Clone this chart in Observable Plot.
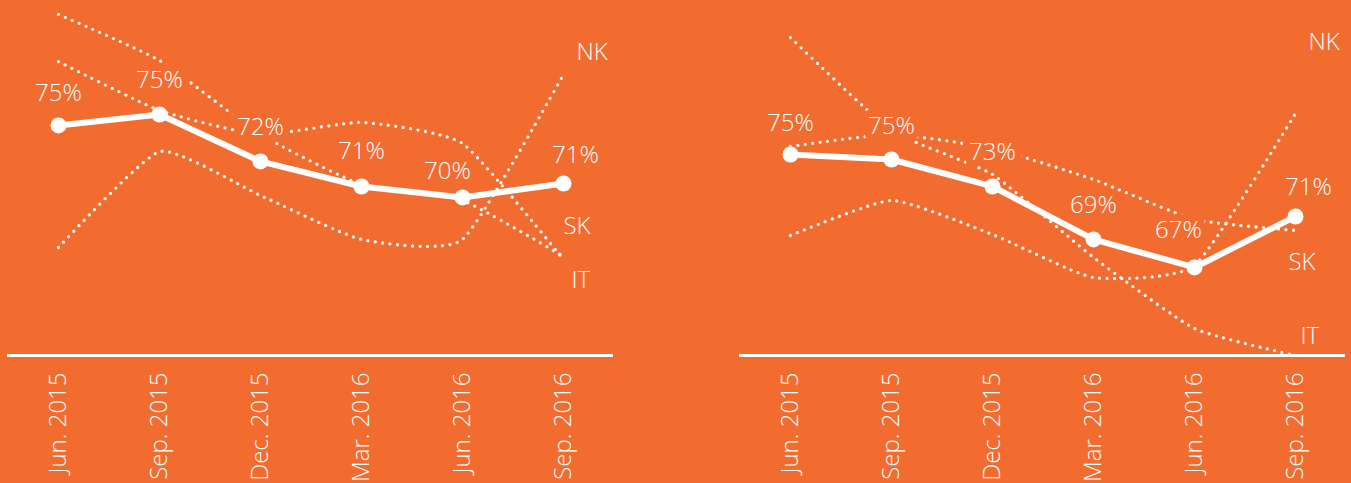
<!DOCTYPE html>
<html>
<head>
<meta charset="utf-8">
<script src="https://cdn.jsdelivr.net/npm/d3@7"></script>
<script src="https://cdn.jsdelivr.net/npm/@observablehq/plot@0.6"></script>
<style>
  html, body { margin: 0; padding: 0; background: #F26B2F; width: 1351px; height: 483px; overflow: hidden; }
  #wrap { display: flex; gap: 113px; }
  svg text { font-weight: 300; }
</style>
</head>
<body>
<div id="wrap"></div>
<script>
// ---- data ----
const dates = ["Jun. 2015", "Sep. 2015", "Dec. 2015", "Mar. 2016", "Jun. 2016", "Sep. 2016"];
const seriesNames = ["NK", "SK", "IT"];

const leftTotal = [74.72, 75.45, 72.32, 70.65, 69.92, 70.85];
const leftNK    = [66.58, 72.98, 70.05, 67.12, 67.12, 78.12];
const leftSK    = [78.98, 75.72, 74.12, 74.92, 73.52, 65.78];
const leftIT    = [82.12, 79.05, 74.12, 70.78, 69.72, 65.98];

const rightTotal = [74.88, 74.55, 72.75, 69.22, 67.35, 70.75];
const rightNK    = [69.48, 71.82, 69.55, 66.68, 67.48, 77.62];
const rightSK    = [75.42, 76.22, 75.28, 73.22, 70.55, 69.82];
const rightIT    = [82.68, 76.48, 73.55, 68.02, 63.28, 61.48];

// ---- styling ----
const BG = "#F26B2F";
const FONT = "'Open Sans', 'Lato', sans-serif";

function panel(cfg) {
  const totalRows = dates.map((d, i) => ({date: d, value: cfg.total[i], i}));
  const vals = {NK: cfg.nk, SK: cfg.sk, IT: cfg.it};
  const lineRows = seriesNames.flatMap(s => dates.map((d, i) => ({series: s, date: d, value: vals[s][i]})));
  const endRows = seriesNames.map(s => ({series: s, date: dates[dates.length - 1], value: vals[s][dates.length - 1]}));

  const valueLabels = totalRows.map((r, i) =>
    Plot.text([r], {
      x: "date", y: "value", text: d => Math.round(d.value) + "%",
      dx: cfg.labelDx[i], dy: cfg.labelDy[i],
      fill: "white", stroke: BG, strokeWidth: 14, strokeLinejoin: "round",
      fontSize: 24, fontFamily: FONT
    })
  );
  const seriesLabels = endRows.map(r =>
    Plot.text([r], {
      x: "date", y: "value", text: "series", textAnchor: "start",
      dx: cfg.seriesOff[r.series][0], dy: cfg.seriesOff[r.series][1],
      fill: "white", fontSize: 24, fontFamily: FONT
    })
  );

  return Plot.plot({
    width: 619, height: 483,
    marginLeft: 7, marginRight: 6, marginTop: 0, marginBottom: 128,
    style: {background: "transparent", color: "white", fontFamily: FONT, fontSize: "24px", overflow: "visible"},
    x: {type: "point", domain: dates, padding: 0.494, label: null},
    y: {domain: cfg.domain, axis: null},
    marks: [
      Plot.line(lineRows, {
        x: "date", y: "value", z: "series", curve: "cardinal", tension: 0.5,
        stroke: "white", strokeWidth: 3.3, strokeDasharray: "0 7.5", strokeLinecap: "round"
      }),
      Plot.ruleY([cfg.domain[0]], {stroke: "white", strokeWidth: 3}),
      Plot.axisX({tickRotate: -90, tickSize: 0, tickPadding: 17, fontSize: 24, label: null, fill: "white"}),
      Plot.line(totalRows, {x: "date", y: "value", stroke: "white", strokeWidth: 6}),
      Plot.dot(totalRows, {x: "date", y: "value", r: 8, fill: "white"}),
      ...valueLabels,
      ...seriesLabels
    ]
  });
}

const wrap = document.getElementById("wrap");
wrap.append(panel({
  total: leftTotal, nk: leftNK, sk: leftSK, it: leftIT,
  domain: [59.38, 83.05],
  labelDx: [0, 0, 0, 0, -15, 12],
  labelDy: [-32, -34, -34, -35, -26, -28],
  seriesOff: {NK: [13, -22], SK: [0, -33], IT: [8, 24]}
}));
wrap.append(panel({
  total: rightTotal, nk: rightNK, sk: rightSK, it: rightIT,
  domain: [61.48, 85.15],
  labelDx: [0, 0, 0, 0, -16, 13],
  labelDy: [-31, -33, -34, -34, -37, -29],
  seriesOff: {NK: [13, -71], SK: [-7, 32], IT: [5, -19]}
}));
</script>
</body>
</html>
